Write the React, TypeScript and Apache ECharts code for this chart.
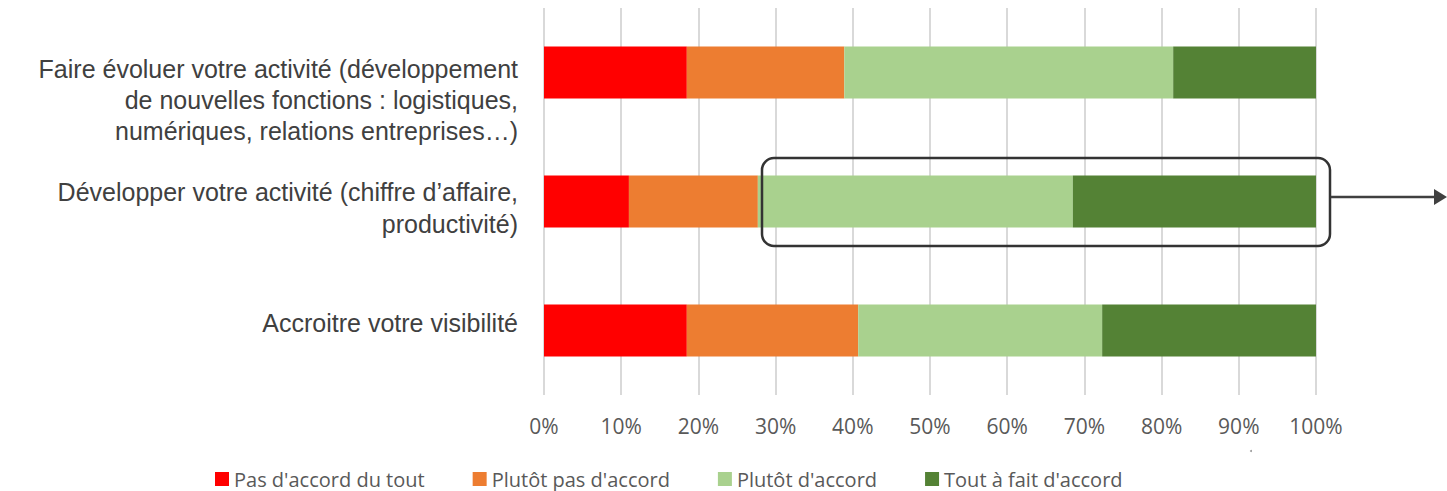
import React, { useEffect, useRef } from "react";
import * as echarts from "echarts";

const categories = [
  "Faire évoluer votre activité (développement\nde nouvelles fonctions : logistiques,\nnumériques, relations entreprises…)",
  "Développer votre activité (chiffre d’affaire,\nproductivité)",
  "Accroitre votre visibilité",
];
const seriesNames = [
  "Pas d'accord du tout",
  "Plutôt pas d'accord",
  "Plutôt d'accord",
  "Tout à fait d'accord",
];
const pasDuTout = [18.5, 11.0, 18.5];
const plutotPas = [20.4, 16.7, 22.2];
const plutotAccord = [42.6, 40.8, 31.6];
const toutAFait = [18.5, 31.5, 27.7];
const xTicks = [0, 10, 20, 30, 40, 50, 60, 70, 80, 90, 100];

const colors = ["#FF0000", "#ED7D31", "#A9D18E", "#548235"];

export default function App() {
  const ref = useRef<HTMLDivElement>(null);
  useEffect(() => {
    if (!ref.current) return;
    const chart = echarts.init(ref.current, null, { renderer: "svg" });
    const values = [pasDuTout, plutotPas, plutotAccord, toutAFait];
    const fmtLabel = (value: string, index: number) => {
      const lines = value.split("\n");
      if (index === 0) return "{s1| }\n" + lines.map((l) => "{a|" + l + "}").join("\n");
      if (index === 1) return "{s2| }\n" + lines.map((l) => "{b|" + l + "}").join("\n");
      return lines.map((l) => "{c|" + l + "}").join("\n") + "\n{s3| }";
    };
    const base = { fontFamily: "Liberation Sans", fontSize: 25, color: "#404040", align: "right" };
    chart.setOption({
      animation: false,
      grid: { left: 544, right: 131, top: 8, bottom: 96, containLabel: false },
      legend: {
        left: 215,
        top: 469,
        padding: 0,
        itemWidth: 14,
        itemHeight: 14,
        itemGap: 48,
        icon: "rect",
        textStyle: { fontFamily: "Open Sans", fontSize: 20, color: "#595959" },
        data: seriesNames,
      },
      xAxis: {
        type: "value",
        min: 0,
        max: 100,
        interval: 10,
        axisLine: { show: false },
        axisTick: { show: false },
        splitLine: { lineStyle: { color: "#D9D9D9", width: 2 } },
        axisLabel: {
          formatter: (v: number) => (xTicks.includes(v) ? v + "%" : ""),
          fontFamily: "Open Sans",
          fontSize: 21,
          color: "#595959",
          margin: 20,
        },
      },
      yAxis: {
        type: "category",
        inverse: true,
        data: categories,
        axisLine: { show: false },
        axisTick: { show: false },
        axisLabel: {
          ...base,
          margin: 26,
          formatter: fmtLabel,
          rich: {
            a: { ...base, lineHeight: 31 },
            b: { ...base, lineHeight: 32 },
            c: { ...base, lineHeight: 30 },
            s1: { ...base, fontSize: 10, lineHeight: 55 },
            s2: { ...base, fontSize: 10, lineHeight: 12 },
            s3: { ...base, fontSize: 10, lineHeight: 16 },
          },
        },
      },
      series: values.map((d, i) => ({
        name: seriesNames[i],
        type: "bar",
        stack: "total",
        barWidth: 52,
        data: d,
        itemStyle: { color: colors[i] },
      })),
      graphic: [
        {
          type: "rect",
          shape: { x: 762, y: 158, width: 568, height: 88, r: 12 },
          style: { fill: "none", stroke: "#333333", lineWidth: 2.5 },
          z: 100,
        },
        {
          type: "line",
          shape: { x1: 1331, y1: 197, x2: 1437, y2: 197 },
          style: { stroke: "#404040", lineWidth: 2.5 },
          z: 100,
        },
        {
          type: "polygon",
          shape: { points: [[1434, 189], [1447, 197], [1434, 205]] },
          style: { fill: "#404040" },
          z: 100,
        },
        {
          type: "circle",
          shape: { cx: 1251, cy: 451, r: 1 },
          style: { fill: "#9A9A9A" },
        },
      ],
    });
    return () => chart.dispose();
  }, []);
  return <div ref={ref} style={{ width: 1447, height: 491, position: "absolute", left: 0, top: 0 }} />;
}
